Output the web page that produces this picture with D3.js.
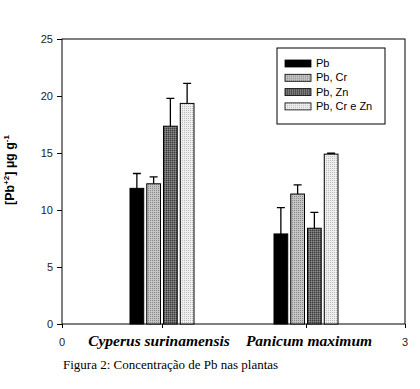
<!DOCTYPE html>
<html>
<head>
<meta charset="utf-8">
<script src="https://cdn.jsdelivr.net/npm/d3@7"></script>
<style>
  body { margin: 0; background: #fff; }
</style>
</head>
<body>
<div id="chart"></div>
<script>
// data
var plants = ["Cyperus surinamensis", "Panicum maximum"];
var series = ["Pb", "Pb, Cr", "Pb, Zn", "Pb, Cr e Zn"];
var means = [
  [11.9, 12.3, 17.35, 19.35],
  [7.9, 11.4, 8.4, 14.9]
];
var errs = [
  [1.3, 0.6, 2.45, 1.75],
  [2.3, 0.8, 1.4, 0.08]
];
var yTicks = [0, 5, 10, 15, 20, 25];
var xEndLabels = ["0", "3"];

var width = 420, height = 389;
var plotL = 62, plotR = 405, plotT = 39, plotB = 324;

var svg = d3.select("#chart")
  .append("svg")
  .attr("width", width)
  .attr("height", height);

// fill patterns for the grey bars
var defs = svg.append("defs");
function dotPattern(id, bg, dot, size) {
  var p = defs.append("pattern")
    .attr("id", id)
    .attr("width", size)
    .attr("height", size)
    .attr("patternUnits", "userSpaceOnUse");
  p.append("rect").attr("width", size).attr("height", size).style("fill", bg);
  p.append("rect").attr("width", 1).attr("height", 1).style("fill", dot);
  return p;
}
dotPattern("pCr", "#c4c4c4", "#8a8a8a", 2);
var pzn = dotPattern("pZn", "#6a6a6a", "#3a3a3a", 2);
pzn.append("rect").attr("x", 1).attr("y", 1).attr("width", 1).attr("height", 1).style("fill", "#8a8a8a");
dotPattern("pCrZn", "#eeeeee", "#bdbdbd", 2);

var fills = ["#000", "url(#pCr)", "url(#pZn)", "url(#pCrZn)"];

var y = d3.scaleLinear().domain([0, 25]).range([plotB, plotT]);
// x axis is 0..3 with the two plants at 1 and 2
var x = d3.scaleLinear().domain([0, 1, 2, 3]).range([plotL, 162, 306, plotR]);
var sub = d3.scaleBand().domain(series).range([-32, 32]).paddingInner(0.18);

// frame
svg.append("rect")
  .attr("x", plotL)
  .attr("y", plotT)
  .attr("width", plotR - plotL)
  .attr("height", plotB - plotT)
  .style("fill", "none")
  .style("stroke", "#000")
  .style("stroke-width", 1);

// y axis
var yAxis = svg.append("g")
  .attr("transform", "translate(" + plotL + ",0)")
  .call(d3.axisLeft(y).tickValues(yTicks).tickSize(5).tickPadding(4));
yAxis.select(".domain").remove();
yAxis.selectAll("text")
  .style("font-family", "Arial, 'Liberation Sans', sans-serif")
  .style("font-size", "11px")
  .style("fill", "#222");

// x axis ticks
var xAxis = svg.append("g")
  .attr("transform", "translate(0," + plotB + ")")
  .call(d3.axisBottom(x).tickValues([0, 1, 2, 3]).tickSize(4).tickFormat(""));
xAxis.select(".domain").remove();

svg.selectAll(".xend")
  .data(xEndLabels)
  .enter().append("text")
  .attr("x", function(d) { return x(+d); })
  .attr("y", 346)
  .style("text-anchor", "middle")
  .style("font-family", "Arial, 'Liberation Sans', sans-serif")
  .style("font-size", "11px")
  .style("fill", "#222")
  .text(function(d) { return d; });

svg.selectAll(".plant")
  .data(plants)
  .enter().append("text")
  .attr("x", function(d, i) { return x(i + 1) + (i == 0 ? -3 : 3); })
  .attr("y", 346)
  .style("text-anchor", "middle")
  .style("font-family", "'Liberation Serif', 'Times New Roman', serif")
  .style("font-size", "15.5px")
  .style("font-weight", "bold")
  .style("font-style", "italic")
  .text(function(d) { return d; });

// bars
var groups = svg.selectAll(".grp")
  .data(plants)
  .enter().append("g")
  .attr("transform", function(d, i) { return "translate(" + x(i + 1) + ",0)"; });

groups.each(function(p, gi) {
  var g = d3.select(this);
  var rows = series.map(function(s, si) {
    return { s: s, si: si, v: means[gi][si], e: errs[gi][si] };
  });

  // error bars (upper only)
  g.selectAll(".err")
    .data(rows)
    .enter().append("path")
    .attr("d", function(d) {
      var cx = sub(d.s) + sub.bandwidth() / 2;
      return "M" + cx + "," + y(d.v) + "V" + y(d.v + d.e) +
        "M" + (cx - 4) + "," + y(d.v + d.e) + "H" + (cx + 4);
    })
    .style("stroke", "#000")
    .style("stroke-width", 1.3)
    .style("fill", "none");

  g.selectAll(".bar")
    .data(rows)
    .enter().append("rect")
    .attr("x", function(d) { return sub(d.s); })
    .attr("y", function(d) { return y(d.v); })
    .attr("width", sub.bandwidth())
    .attr("height", function(d) { return y(0) - y(d.v); })
    .style("fill", function(d) { return fills[d.si]; })
    .style("stroke", "#000")
    .style("stroke-width", 1);
});

// y label
svg.append("text")
  .attr("transform", "translate(14,170) rotate(-90)")
  .style("text-anchor", "middle")
  .style("font-family", "Arial, 'Liberation Sans', sans-serif")
  .style("font-size", "12.5px")
  .style("font-weight", "bold")
  .html("[Pb<tspan dy='-5' font-size='8px'>+2</tspan><tspan dy='5'>] µg g</tspan><tspan dy='-5' font-size='8px'>-1</tspan>");

// legend
var lg = svg.append("g").attr("transform", "translate(277,48)");
lg.append("rect")
  .attr("width", 108)
  .attr("height", 76)
  .style("fill", "#fff")
  .style("stroke", "#000")
  .style("stroke-width", 1);
var items = lg.selectAll(".item")
  .data(series)
  .enter().append("g")
  .attr("transform", function(d, i) { return "translate(8," + (12 + i * 14.3) + ")"; });
items.append("rect")
  .attr("width", 26)
  .attr("height", 7)
  .style("fill", function(d, i) { return fills[i]; })
  .style("stroke", "#000")
  .style("stroke-width", 0.8);
items.append("text")
  .attr("x", 31)
  .attr("y", 7)
  .style("font-family", "Arial, 'Liberation Sans', sans-serif")
  .style("font-size", "11px")
  .text(function(d) { return d; });

// caption
svg.append("text")
  .attr("x", 63)
  .attr("y", 369)
  .style("font-family", "'Liberation Serif', 'Times New Roman', serif")
  .style("font-size", "13px")
  .text("Figura 2: Concentração de Pb nas plantas");
</script>
</body>
</html>
